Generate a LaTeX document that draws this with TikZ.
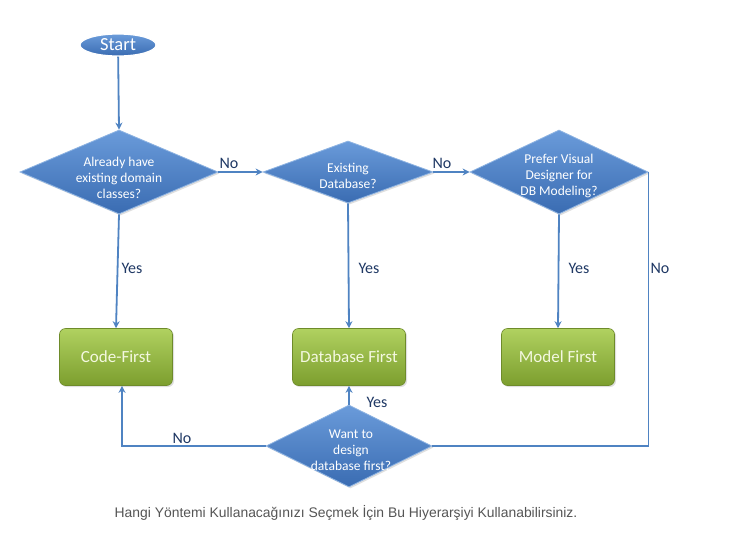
\documentclass[tikz,border=0pt]{standalone}
\usepackage{fontspec}
\setmainfont{Carlito}
\newfontfamily\capfont{Liberation Sans}
\usetikzlibrary{shapes.geometric,arrows.meta,shadows}
\definecolor{lineblue}{HTML}{4F83C2}
\definecolor{dtop}{HTML}{6A9BDA}
\definecolor{dbot}{HTML}{3A6CB2}
\definecolor{dedge}{HTML}{8DB3E2}
\definecolor{gtop}{HTML}{B0D160}
\definecolor{gbot}{HTML}{7C9E2E}
\definecolor{gedge}{HTML}{6E8B2A}
\definecolor{lbl}{HTML}{1F3864}
\definecolor{capgray}{HTML}{555555}
\definecolor{boxtext}{HTML}{F4F8E0}
\tikzset{
  decision/.style={diamond, inner sep=0pt, top color=dtop, bottom color=dbot,
    draw=dedge, line width=0.8pt,
    drop shadow={opacity=0.25,shadow xshift=1.5pt,shadow yshift=-1.5pt}},
  dtext/.style={text=white, align=center, inner sep=0pt,
    font=\fontsize{13.5}{16}\selectfont},
  outcome/.style={rectangle, rounded corners=6pt, minimum width=113pt, minimum height=57pt,
    top color=gtop, bottom color=gbot, draw=gedge, line width=0.6pt, text=boxtext,
    font=\fontsize{17}{19}\selectfont, drop shadow={opacity=0.25,shadow xshift=1.5pt,shadow yshift=-1.5pt}},
  terminal/.style={ellipse, minimum width=76pt, minimum height=22pt, inner sep=0pt,
    top color=dtop, bottom color=dbot, draw=white, line width=1.2pt, text=white,
    font=\fontsize{18.5}{19}\selectfont},
  conn/.style={draw=lineblue, line width=1.8pt},
  arr/.style={conn, -{Stealth[length=7pt,width=7pt]}},
  lab/.style={text=lbl, font=\fontsize{16}{17}\selectfont, inner sep=0pt},
  caption/.style={text=capgray, font=\capfont\fontsize{13.9}{16}\selectfont}
}
\begin{document}
\begin{tikzpicture}[x=1pt,y=-1pt]
\useasboundingbox[fill=white] (0,0) rectangle (735,546);
\node[terminal] (start) at (118,45) {Start};
\node[decision, minimum width=198pt, minimum height=84pt, aspect=2.36] (d1) at (119,172) {};
\node[decision, minimum width=170pt, minimum height=62pt, aspect=2.74] (d2) at (348,172) {};
\node[decision, minimum width=178pt, minimum height=84pt, aspect=2.12] (d3) at (559,172) {};
\node[outcome] (cf) at (116,357) {Code-First};
\node[outcome] (dbf) at (349,357) {Database First};
\node[outcome] (mf) at (558,357) {Model First};
\node[decision, minimum width=166pt, minimum height=82pt, aspect=2.02] (d4) at (349,446) {};

\node[dtext] (t1) at (119,178) {Already have\\existing domain\\classes?};
\node[dtext] (t2) at (348,176) {Existing\\Database?};
\node[dtext] (t3) at (559,176) {Prefer Visual\\Designer for\\DB Modeling?};
\node[dtext] (t4) at (351,450) {Want to\\design\\database first?};

\draw[arr] (start) -- (d1.north);
\draw[arr] (d1.east) -- (d2.west);
\draw[arr] (d2.east) -- (d3.west);
\draw[arr] (d1.south) -- (cf.north);
\draw[arr] (d2.south) -- (dbf.north);
\draw[arr] (d3.south) -- (mf.north);
\draw[conn] (d3.east) |- (d4.east);
\draw[arr] (d4.west) -| ([xshift=6pt]cf.south);
\draw[arr] (d4.north) -- (dbf.south);

\node[lab] (n1) at (229,163) {No};
\node[lab] (n2) at (442,163) {No};
\node[lab] (y1) at (132,268) {Yes};
\node[lab] (y2) at (369,268) {Yes};
\node[lab] (y3) at (579,268) {Yes};
\node[lab] (n3) at (660,268) {No};
\node[lab] (n4) at (182,438) {No};
\node[lab] (y4) at (377,402) {Yes};

\node[caption] (cap) at (346,513) {Hangi Yöntemi Kullanacağınızı Seçmek İçin Bu Hiyerarşiyi Kullanabilirsiniz.};
\end{tikzpicture}
\end{document}
